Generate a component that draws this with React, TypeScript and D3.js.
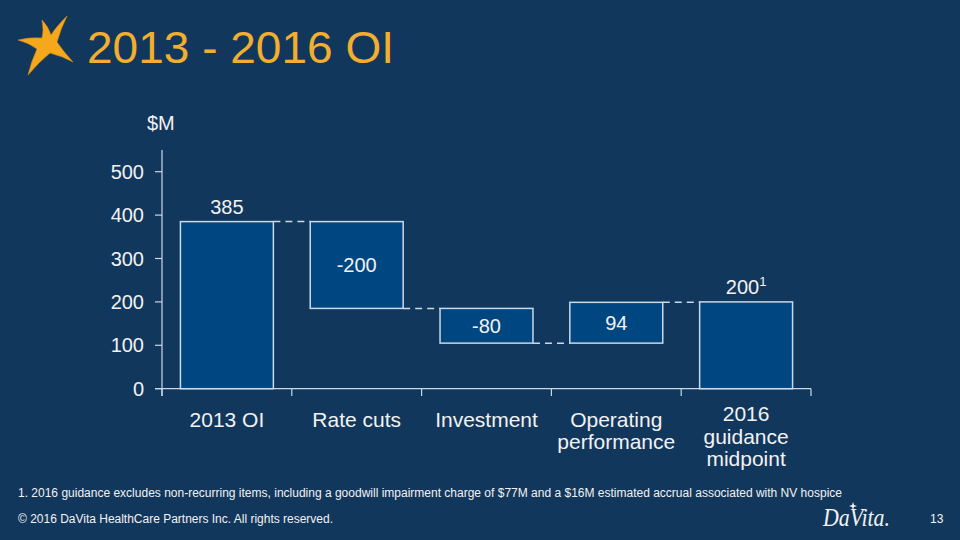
import React from "react";
import * as d3 from "d3";

const categories = ["2013 OI", "Rate cuts", "Investment", "Operating performance", "2016 guidance midpoint"];
const categoryLines = [["2013 OI"], ["Rate cuts"], ["Investment"], ["Operating", "performance"], ["2016", "guidance", "midpoint"]];
const startValue = 385;
const deltas = [-200, -80, 94];
const endValue = 200;
const valueLabels = ["385", "-200", "-80", "94", "200"];
const yTicks = [0, 100, 200, 300, 400, 500];

const BG = "#12375c";
const BAR = "#004680";
const STROKE = "#c9d9e8";
const TEXT = "#f2f2f2";
const ORANGE = "#f2ae2e";
const FONT = "'Liberation Sans', Arial, sans-serif";

type Seg = { cat: string; y0: number; y1: number; label: string; total: boolean };

function buildSegments(): Seg[] {
  const segs: Seg[] = [];
  segs.push({ cat: categories[0], y0: 0, y1: startValue, label: valueLabels[0], total: true });
  let cur = startValue;
  deltas.forEach((d, i) => {
    const next = cur + d;
    segs.push({ cat: categories[i + 1], y0: cur, y1: next, label: valueLabels[i + 1], total: false });
    cur = next;
  });
  segs.push({ cat: categories[4], y0: 0, y1: endValue, label: valueLabels[4], total: true });
  return segs;
}

export default function App() {
  const W = 960, H = 540;
  const x = d3.scaleBand<string>().domain(categories).range([162, 811]).paddingInner(0.284).paddingOuter(0.142);
  const y = d3.scaleLinear().domain([0, 550]).range([388.7, 150]);
  const segs = buildSegments();
  const step = x.step();
  const bounds = categories.map((_, i) => 162 + i * step).concat([811]);

  const starPath =
    "M67,16 Q56,27 51,35 Q48,26 42,20 Q44,31 42,38 Q30,37 18,40 Q29,43 37,49 Q31,62 28,75 Q40,61 50,53 Q62,56 73,62 Q63,51 57,42 Q61,28 67,16 Z";

  return (
    <svg width={W} height={H} style={{ position: "absolute", left: 0, top: 0, display: "block" }}>
      <rect x={0} y={0} width={W} height={H} fill={BG} />
      {/* star */}
      <path d={starPath} fill="#f5a81c" stroke="#d68b10" strokeWidth={0.6} />
      <text x={87} y={63} fill={ORANGE} fontFamily={FONT} fontSize={45} textLength={307} lengthAdjust="spacingAndGlyphs">2013 - 2016 OI</text>
      <text x={147} y={130} fill={TEXT} fontFamily={FONT} fontSize={20}>$M</text>

      {/* bars */}
      {segs.map((s, i) => {
        const x0 = x(s.cat)!;
        const top = y(Math.max(s.y0, s.y1));
        const bot = y(Math.min(s.y0, s.y1));
        return (
          <rect key={"b" + i} x={x0} y={top} width={x.bandwidth()} height={bot - top}
            fill={BAR} stroke={STROKE} strokeWidth={1.5} />
        );
      })}
      {/* connectors */}
      {segs.slice(0, -1).map((s, i) => {
        const xa = x(s.cat)! + x.bandwidth();
        const xb = x(segs[i + 1].cat)!;
        const lvl = y(s.y1);
        return <line key={"c" + i} x1={xa} x2={xb} y1={lvl} y2={lvl} stroke={STROKE} strokeWidth={1.5} strokeDasharray="7,5" />;
      })}
      {/* value labels */}
      {segs.map((s, i) => {
        const cx = x(s.cat)! + x.bandwidth() / 2;
        if (s.total) {
          const top = y(s.y1);
          return (
            <text key={"v" + i} x={cx} y={top - 8} fill={TEXT} fontFamily={FONT} fontSize={20} textAnchor="middle">
              {s.label}
              {i === segs.length - 1 ? <tspan fontSize={13} dy={-8}>1</tspan> : null}
            </text>
          );
        }
        const mid = (y(s.y0) + y(s.y1)) / 2;
        return (
          <text key={"v" + i} x={cx} y={mid + 7} fill={TEXT} fontFamily={FONT} fontSize={20} textAnchor="middle">{s.label}</text>
        );
      })}

      {/* axes */}
      <line x1={162} x2={162} y1={150} y2={396} stroke={STROKE} strokeWidth={1.2} />
      <line x1={155} x2={811} y1={388.7} y2={388.7} stroke={STROKE} strokeWidth={1.2} />
      {yTicks.map((t) => (
        <g key={"yt" + t}>
          <line x1={155} x2={162} y1={y(t)} y2={y(t)} stroke={STROKE} strokeWidth={1.2} />
          <text x={144} y={y(t) + 7} fill={TEXT} fontFamily={FONT} fontSize={20} textAnchor="end">{t}</text>
        </g>
      ))}
      {bounds.map((b, i) => (
        <line key={"xt" + i} x1={b} x2={b} y1={388.7} y2={396} stroke={STROKE} strokeWidth={1.2} />
      ))}
      {categoryLines.map((lines, i) => {
        const cx = x(categories[i])! + x.bandwidth() / 2;
        const first = lines.length === 3 ? 421 : 427;
        const lh = lines.length === 3 ? 22.5 : 22;
        return (
          <text key={"cl" + i} fill={TEXT} fontFamily={FONT} fontSize={21} textAnchor="middle">
            {lines.map((l, j) => (
              <tspan key={j} x={cx} y={first + j * lh}>{l}</tspan>
            ))}
          </text>
        );
      })}

      {/* footnotes */}
      <text x={18} y={497} fill={TEXT} fontFamily={FONT} fontSize={12} textLength={824} lengthAdjust="spacingAndGlyphs">
        1. 2016 guidance excludes non-recurring items, including a goodwill impairment charge of $77M and a $16M estimated accrual associated with NV hospice
      </text>
      <text x={18} y={523} fill={TEXT} fontFamily={FONT} fontSize={12} textLength={315} lengthAdjust="spacingAndGlyphs">
        © 2016 DaVita HealthCare Partners Inc. All rights reserved.
      </text>
      <text x={823} y={526} fill={TEXT} fontFamily="'Liberation Serif', 'DejaVu Serif', serif" fontStyle="italic" fontSize={25} textLength={67} lengthAdjust="spacingAndGlyphs">DaVita.</text>
      <path d="M853,502 L854,505 L857,506 L854,507 L853,510 L852,507 L849,506 L852,505 Z" fill={TEXT} />
      <text x={930} y={523} fill={TEXT} fontFamily={FONT} fontSize={12}>13</text>
    </svg>
  );
}
